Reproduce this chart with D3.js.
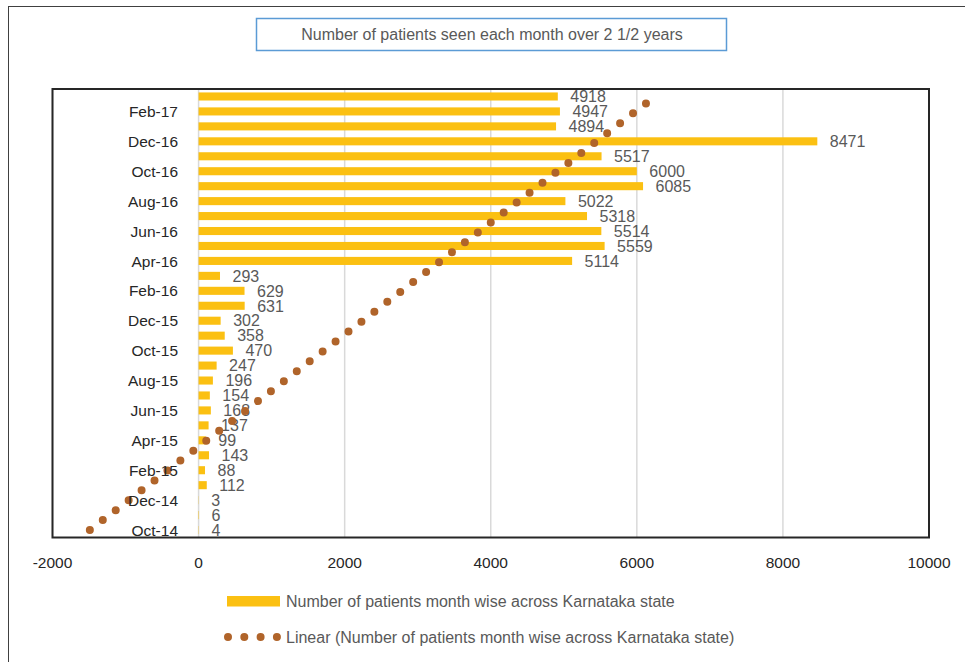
<!DOCTYPE html>
<html>
<head>
<meta charset="utf-8">
<script src="https://cdn.jsdelivr.net/npm/d3@7"></script>
<style>
  body { margin: 0; background: #fff; }
  svg { font-family: "Liberation Sans", Arial, sans-serif; display: block; }
</style>
</head>
<body>
<div id="chart"></div>
<script>
// Months, oldest first (Oct-14 at the bottom of the chart)
const months = ['Oct-14', 'Nov-14', 'Dec-14', 'Jan-15', 'Feb-15', 'Mar-15', 'Apr-15', 'May-15',
    'Jun-15', 'Jul-15', 'Aug-15', 'Sep-15', 'Oct-15', 'Nov-15', 'Dec-15', 'Jan-16', 'Feb-16',
    'Mar-16', 'Apr-16', 'May-16', 'Jun-16', 'Jul-16', 'Aug-16', 'Sep-16', 'Oct-16', 'Nov-16',
    'Dec-16', 'Jan-17', 'Feb-17', 'Mar-17'];

const patients = [4, 6, 3, 112, 88, 143, 99, 137, 168, 154, 196, 247, 470, 358, 302, 631, 629,
    293, 5114, 5559, 5514, 5318, 5022, 6085, 6000, 5517, 8471, 4894, 4947, 4918];

const xTicks = [-2000, 0, 2000, 4000, 6000, 8000, 10000];
const yTickLabels = months.filter((d, i) => i % 2 === 0);

const title = 'Number of patients seen each month over 2 1/2 years';
const seriesName = 'Number of patients month wise across Karnataka state';
const trendName = 'Linear (Number of patients month wise across Karnataka state)';

const dimensions = {
    width: 965,
    height: 662,
    plotLeft: 52.5,
    plotRight: 929,
    plotTop: 89,
    plotBottom: 537.5
};

const barColor = '#fbc012';
const trendColor = '#b0642a';

const svg = d3.select('#chart')
    .append('svg')
    .attr('width', dimensions.width)
    .attr('height', dimensions.height);

svg.append('rect')
    .attr('width', dimensions.width)
    .attr('height', dimensions.height)
    .attr('fill', '#fff');

// outer chart frame (runs past the right and bottom edges)
svg.append('rect')
    .attr('x', 8.5).attr('y', 6.5)
    .attr('width', 1000).attr('height', 700)
    .attr('fill', 'none')
    .attr('stroke', '#404040')
    .attr('stroke-width', 1);

// Title box
svg.append('rect')
    .attr('x', 256.5).attr('y', 18.5)
    .attr('width', 470).attr('height', 32)
    .attr('fill', '#fff')
    .attr('stroke', '#5b9bd5')
    .attr('stroke-width', 1.5);

svg.append('text')
    .attr('x', 492).attr('y', 34.5)
    .attr('dy', '0.36em')
    .attr('text-anchor', 'middle')
    .attr('font-size', 16)
    .attr('fill', '#595959')
    .text(title);

// Scales
const x = d3.scaleLinear()
    .domain([-2000, 10000])
    .range([dimensions.plotLeft, dimensions.plotRight]);

const y = d3.scaleBand()
    .domain(months.slice().reverse())
    .range([dimensions.plotTop, dimensions.plotBottom])
    .paddingInner(0.46)
    .paddingOuter(0.23);

// Gridlines
svg.append('g')
    .selectAll('line')
    .data(xTicks)
    .join('line')
    .attr('x1', d => x(d)).attr('x2', d => x(d))
    .attr('y1', dimensions.plotTop).attr('y2', dimensions.plotBottom)
    .attr('stroke', '#d9d9d9')
    .attr('stroke-width', 1.5);

// Bars
svg.append('g')
    .selectAll('rect')
    .data(patients)
    .join('rect')
    .attr('x', x(0))
    .attr('y', (d, i) => y(months[i]))
    .attr('width', d => x(d) - x(0))
    .attr('height', y.bandwidth())
    .attr('fill', barColor);

// Data labels
svg.append('g')
    .selectAll('text')
    .data(patients)
    .join('text')
    .attr('x', d => x(d) + 12.5)
    .attr('y', (d, i) => y(months[i]) + y.bandwidth() / 2)
    .attr('dy', '0.36em')
    .attr('font-size', 16)
    .attr('fill', '#595959')
    .text(d => d);

// Linear trendline (least squares over month index)
const idx = d3.range(patients.length);
const meanI = d3.mean(idx);
const meanV = d3.mean(patients);
const slope = d3.sum(idx, i => (i - meanI) * (patients[i] - meanV)) / d3.sum(idx, i => (i - meanI) ** 2);
const intercept = meanV - slope * meanI;
const first = 0, last = patients.length - 1;
const yc = i => y(months[i]) + y.bandwidth() / 2;

svg.append('line')
    .attr('x1', x(intercept + slope * first))
    .attr('y1', yc(first))
    .attr('x2', x(intercept + slope * last))
    .attr('y2', yc(last))
    .attr('stroke', trendColor)
    .attr('stroke-width', 8)
    .attr('stroke-linecap', 'round')
    .attr('stroke-dasharray', '0 16.3');

// Plot area border
svg.append('rect')
    .attr('x', dimensions.plotLeft).attr('y', dimensions.plotTop)
    .attr('width', dimensions.plotRight - dimensions.plotLeft)
    .attr('height', dimensions.plotBottom - dimensions.plotTop)
    .attr('fill', 'none')
    .attr('stroke', '#262626')
    .attr('stroke-width', 2);

// Y labels (every other month)
svg.append('g')
    .selectAll('text')
    .data(yTickLabels)
    .join('text')
    .attr('x', 178)
    .attr('y', d => y(d) + y.bandwidth() / 2)
    .attr('dy', '0.36em')
    .attr('text-anchor', 'end')
    .attr('font-size', 15.5)
    .attr('fill', '#262626')
    .text(d => d);

// X labels
svg.append('g')
    .selectAll('text')
    .data(xTicks)
    .join('text')
    .attr('x', d => x(d))
    .attr('y', 562)
    .attr('dy', '0.36em')
    .attr('text-anchor', 'middle')
    .attr('font-size', 15.5)
    .attr('fill', '#262626')
    .text(d => d);

// Legend
const legend = svg.append('g');
legend.append('rect')
    .attr('x', 227).attr('y', 596)
    .attr('width', 53).attr('height', 10.5)
    .attr('fill', barColor);
legend.append('text')
    .attr('x', 286).attr('y', 601)
    .attr('dy', '0.36em')
    .attr('font-size', 16)
    .attr('fill', '#595959')
    .text(seriesName);
legend.append('line')
    .attr('x1', 228).attr('x2', 280)
    .attr('y1', 637).attr('y2', 637)
    .attr('stroke', trendColor)
    .attr('stroke-width', 8)
    .attr('stroke-linecap', 'round')
    .attr('stroke-dasharray', '0 16.3');
legend.append('text')
    .attr('x', 286).attr('y', 637)
    .attr('dy', '0.36em')
    .attr('font-size', 16)
    .attr('fill', '#595959')
    .text(trendName);
</script>
</body>
</html>
